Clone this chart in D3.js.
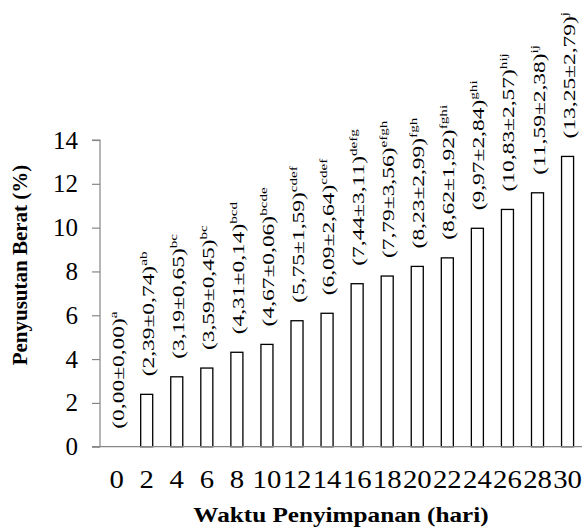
<!DOCTYPE html>
<html>
<head>
<meta charset="utf-8">
<script src="https://cdn.jsdelivr.net/npm/d3@7"></script>
<style>
  html, body { margin: 0; padding: 0; background: #fff; }
  svg { display: block; }
  text { font-family: "Liberation Serif", "Times New Roman", serif; fill: #000; }
</style>
</head>
<body>
<svg id="chart" width="582" height="528"></svg>
<script>
// Storage time (days)
const days = ["0", "2", "4", "6", "8", "10", "12", "14", "16", "18", "20", "22", "24", "26", "28", "30"];
// Mean weight loss (%)
const meanLoss = [0.00, 2.39, 3.19, 3.59, 4.31, 4.67, 5.75, 6.09, 7.44, 7.79, 8.23, 8.62, 9.97, 10.83, 11.59, 13.25];
// Standard deviation
const sdLoss = [0.00, 0.74, 0.65, 0.45, 0.14, 0.06, 1.59, 2.64, 3.11, 3.56, 2.99, 1.92, 2.84, 2.57, 2.38, 2.79];
// Significance letters
const letters = ["a", "ab", "bc", "bc", "bcd", "bcde", "cdef", "cdef", "defg", "efgh", "fgh", "fghi", "ghi", "hij", "ij", "j"];
// Y-axis ticks
const yTicks = [0, 2, 4, 6, 8, 10, 12, 14];

const svg = d3.select("#chart");
const fmt = v => v.toFixed(2).replace(".", ",");
const rows = days.map((d, i) => ({ day: d, mean: meanLoss[i], sd: sdLoss[i], letter: letters[i] }));

const x = d3.scaleBand()
  .domain(days)
  .range([101.6, 582.6])
  .paddingInner(0.6)
  .paddingOuter(0.3);

const y = d3.scaleLinear()
  .domain([0, 14])
  .range([446.7, 140]);

const axisColor = "#868686";

// Y axis
const yAxis = svg.append("g")
  .attr("transform", "translate(100,0)")
  .call(d3.axisLeft(y).tickValues(yTicks).tickSize(8).tickPadding(14).tickFormat(d3.format("d")));
yAxis.select(".domain")
  .attr("stroke", axisColor)
  .attr("stroke-width", 1.2)
  .attr("d", `M-8,${y(14)}H0V${y(0)}`);
yAxis.selectAll(".tick line").attr("stroke", axisColor).attr("stroke-width", 1.2);
yAxis.selectAll(".tick text")
  .attr("font-size", 25)
  .attr("fill", "#000");

// Bars (a zero mean draws nothing)
svg.append("g")
  .selectAll("rect")
  .data(rows.filter(r => r.mean > 0))
  .join("rect")
  .attr("x", r => x(r.day))
  .attr("y", r => y(r.mean))
  .attr("width", x.bandwidth())
  .attr("height", r => y(0) - y(r.mean))
  .attr("fill", "#fff")
  .attr("stroke", "#000")
  .attr("stroke-width", 1.3);

// X axis: baseline with day labels, no tick marks
const xAxis = svg.append("g")
  .attr("transform", `translate(0,${y(0)})`)
  .call(d3.axisBottom(x).tickSize(0).tickPadding(0));
xAxis.select(".domain")
  .attr("stroke", axisColor)
  .attr("stroke-width", 1.2)
  .attr("d", "M92,0H582");
xAxis.selectAll(".tick text")
  .attr("font-size", 25)
  .attr("fill", "#000")
  .attr("dy", 0)
  .attr("y", 41)
  .attr("transform", "scale(1.15,1)");

// Mean ± SD labels with significance letters, written upward above each bar
svg.append("g")
  .selectAll("text")
  .data(rows)
  .join("text")
  .attr("transform", r => `translate(${x(r.day) + x.bandwidth() / 2 + 7},${y(r.mean) - 18}) rotate(-90) scale(1.38,1)`)
  .attr("font-size", 17)
  .attr("text-anchor", "start")
  .each(function(r) {
    const t = d3.select(this);
    t.append("tspan").text(`(${fmt(r.mean)}±${fmt(r.sd)})`);
    t.append("tspan").attr("font-size", 11).attr("dy", -7).text(r.letter);
  });

// Axis titles
svg.append("text")
  .attr("transform", "translate(27,265) rotate(-90)")
  .attr("text-anchor", "middle")
  .attr("font-size", 21)
  .attr("font-weight", "bold")
  .text("Penyusutan Berat (%)");

svg.append("text")
  .attr("transform", "translate(341,522) scale(1.2,1)")
  .attr("text-anchor", "middle")
  .attr("font-size", 21)
  .attr("font-weight", "bold")
  .text("Waktu Penyimpanan (hari)");
</script>
</body>
</html>
